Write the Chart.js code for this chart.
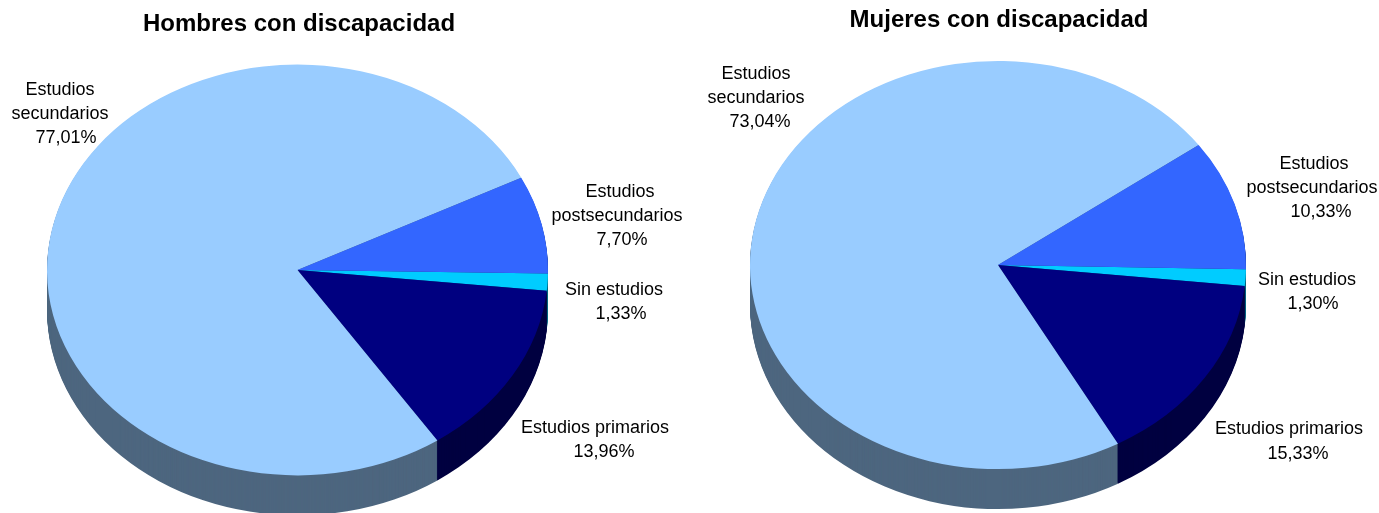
<!DOCTYPE html>
<html>
<head>
<meta charset="utf-8">
<title>Discapacidad por nivel de estudios</title>
<script src="https://cdn.jsdelivr.net/npm/chart.js@4"></script>
<style>
html,body{margin:0;padding:0;background:#fff;width:1379px;height:513px;overflow:hidden;}
canvas{position:absolute;top:0;}
#hombres{left:-101px;}
#mujeres{left:599px;}
</style>
</head>
<body>
<canvas id="hombres" width="800" height="600"></canvas>
<canvas id="mujeres" width="800" height="600"></canvas>
<script>
const categories=['Sin estudios','Estudios primarios','Estudios secundarios','Estudios postsecundarios'];
const hombresValues=[1.33,13.96,77.01,7.70];
const mujeresValues=[1.30,15.33,73.04,10.33];
const categoryLines=[['Sin estudios'],['Estudios primarios'],['Estudios','secundarios'],['Estudios','postsecundarios']];

const topColors=['#00CCFF','#000080','#99CCFF','#3366FF'];
const wallColors=['#006680','#000040','#4D667F','#1A3380'];
const wallOrder=[3,2,1,0];
const FONT="'Liberation Sans',Arial,sans-serif";

// page position of every label line, same order as categories, last entry of each is the percent line
const hombresLabels=[
    [[614,290],[621,314]],
    [[595,428],[604,452]],
    [[60,90],[60,114],[66,138]],
    [[620,192],[617,216],[622,240]]
];
const mujeresLabels=[
    [[1307,280],[1313,304]],
    [[1289,429],[1298,454]],
    [[756,74],[756,98],[760,122]],
    [[1314,164],[1312,188],[1321,212]]
];

const piePlugin={
    id:'pie3d',
    beforeDatasetsDraw(chart,args,opts){
        const ctx=chart.ctx,arcs=chart.getDatasetMeta(0).data;
        ctx.save();
        ctx.translate(opts.cx-opts.canvasLeft,opts.cy);
        ctx.scale(1,opts.squash);
        ctx.translate(-arcs[0].x,-arcs[0].y);
        for(let d=opts.depth;d>0;d--){
            wallOrder.forEach(i=>{
                const a=arcs[i];
                ctx.beginPath();
                ctx.moveTo(a.x,a.y+d/opts.squash);
                ctx.arc(a.x,a.y+d/opts.squash,a.outerRadius,a.startAngle,a.endAngle);
                ctx.closePath();
                ctx.fillStyle=wallColors[i];
                ctx.fill();
            });
        }
    },
    afterDatasetsDraw(chart){
        chart.ctx.restore();
    },
    afterDraw(chart,args,opts){
        const ctx=chart.ctx,values=chart.data.datasets[0].data;
        ctx.save();
        ctx.font='18px '+FONT;
        ctx.fillStyle='#000';
        ctx.textAlign='center';
        ctx.textBaseline='middle';
        values.forEach((v,i)=>{
            const lines=categoryLines[i].concat([v.toFixed(2).replace('.',',')+'%']);
            lines.forEach((txt,n)=>{
                const spot=opts.labels[i][n];
                ctx.fillText(txt,spot[0]-opts.canvasLeft,spot[1]);
            });
        });
        ctx.restore();
    }
};

const drawPie=(id,titleText,values,labels,o)=>{
    return new Chart(document.getElementById(id).getContext('2d'),{
        type:'pie',
        data:{
            labels:categories,
            datasets:[{data:values,backgroundColor:topColors,borderWidth:0,hoverOffset:0}]
        },
        options:{
            responsive:false,
            animation:false,
            rotation:o.rotation,
            radius:o.radius,
            plugins:{
                legend:{display:false},
                tooltip:{enabled:false},
                title:{
                    display:true,
                    text:titleText,
                    color:'#000',
                    font:{family:FONT,size:24,weight:'bold'},
                    padding:{top:o.titleTop,bottom:10}
                },
                pie3d:{cx:o.cx,cy:o.cy,squash:o.squash,depth:40,canvasLeft:o.canvasLeft,labels:labels}
            }
        },
        plugins:[piePlugin]
    });
};

drawPie('hombres','Hombres con discapacidad',hombresValues,hombresLabels,{rotation:91,radius:250.5,cx:297.5,cy:270,squash:0.82,titleTop:10,canvasLeft:-101});
drawPie('mujeres','Mujeres con discapacidad',mujeresValues,mujeresLabels,{rotation:91.2,radius:248,cx:998,cy:265,squash:0.823,titleTop:6,canvasLeft:599});
</script>
</body>
</html>
